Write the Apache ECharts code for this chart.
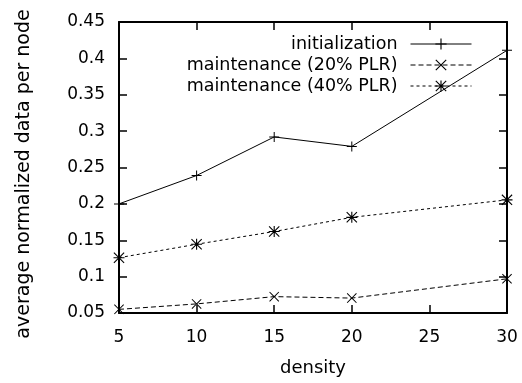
<!DOCTYPE html>
<html>
<head>
<meta charset="utf-8">
<script src="https://cdn.jsdelivr.net/npm/echarts@6/dist/echarts.min.js"></script>
<style>
  html, body { margin: 0; padding: 0; background: #fff; }
  #chart { width: 522px; height: 383px; }
</style>
</head>
<body>
<div id="chart"></div>
<script>
// data
const density = [5, 10, 15, 20, 30]
const initialization = [0.2, 0.239, 0.292, 0.279, 0.411]
const maint20 = [0.055, 0.0625, 0.0725, 0.0705, 0.097]
const maint40 = [0.126, 0.1445, 0.162, 0.1815, 0.2055]
const seriesNames = ['initialization', 'maintenance (20% PLR)', 'maintenance (40% PLR)']

// gnuplot-like point glyphs
const PLUS = 'path://M4.5,0H5.5V4.5H10V5.5H5.5V10H4.5V5.5H0V4.5H4.5Z'
const CROSS = 'path://M0,0.7L0.7,0L5,4.3L9.3,0L10,0.7L5.7,5L10,9.3L9.3,10L5,5.7L0.7,10L0,9.3L4.3,5Z'
const STAR = 'path://M4.5,0H5.5V4.5H10V5.5H5.5V10H4.5V5.5H0V4.5H4.5Z' +
  'M0,0.7L0.7,0L5,4.3L9.3,0L10,0.7L5.7,5L10,9.3L9.3,10L5,5.7L0.7,10L0,9.3L4.3,5Z'

const FONT = 'DejaVu Sans'

const pairs = (ys) => density.map((x, i) => [x, ys[i]])

const chart = echarts.init(document.getElementById('chart'), null, { renderer: 'canvas' })

const axisLine = { show: true, lineStyle: { color: '#000', width: 2 } }
const tick = { show: true, inside: true, length: 8, lineStyle: { color: '#000', width: 1.5 } }

const legendRow = (name, top) => ({
  data: [name],
  orient: 'vertical',
  right: 50,
  top: top,
  padding: 0,
  align: 'right',
  itemWidth: 61,
  itemHeight: 14,
  lineStyle: { width: 1 },
  textStyle: { fontFamily: FONT, fontSize: 17.5, color: '#000', padding: [0, 8, 0, 0] },
  selectedMode: false
})

chart.setOption({
  animation: false,
  backgroundColor: '#fff',
  textStyle: { fontFamily: FONT },
  grid: { left: 119, right: 15, top: 22, bottom: 70, show: false },
  legend: [
    legendRow(seriesNames[0], 35),
    legendRow(seriesNames[1], 56),
    legendRow(seriesNames[2], 77)
  ],
  xAxis: [
    {
      type: 'value', min: 5, max: 30, interval: 5,
      name: 'density', nameLocation: 'middle', nameGap: 46,
      nameTextStyle: { fontFamily: FONT, fontSize: 18, color: '#000' },
      axisLine, axisTick: tick,
      axisLabel: { fontFamily: FONT, fontSize: 17, color: '#000', margin: 16 },
      splitLine: { show: false }
    },
    {
      type: 'value', position: 'top', min: 5, max: 30, interval: 5,
      axisLine, axisTick: tick, axisLabel: { show: false }, splitLine: { show: false }
    }
  ],
  yAxis: [
    {
      type: 'value', min: 0.05, max: 0.45, interval: 0.05,
      name: 'average normalized data per node', nameLocation: 'middle', nameGap: 85,
      nameTextStyle: { fontFamily: FONT, fontSize: 19, color: '#000', padding: [0, 13, 0, 0] },
      axisLine, axisTick: tick,
      axisLabel: {
        fontFamily: FONT, fontSize: 17, color: '#000', margin: 14,
        formatter: (v) => String(Math.round(v * 100) / 100)
      },
      splitLine: { show: false }
    },
    {
      type: 'value', position: 'right', min: 0.05, max: 0.45, interval: 0.05,
      axisLine, axisTick: tick, axisLabel: { show: false }, splitLine: { show: false }
    }
  ],
  series: [
    {
      name: seriesNames[0], type: 'line', data: pairs(initialization),
      symbol: PLUS, symbolSize: 10,
      lineStyle: { color: '#000', width: 1, type: 'solid' },
      itemStyle: { color: '#000' }
    },
    {
      name: seriesNames[1], type: 'line', data: pairs(maint20),
      symbol: CROSS, symbolSize: 10,
      lineStyle: { color: '#000', width: 1, type: [5, 3] },
      itemStyle: { color: '#000' }
    },
    {
      name: seriesNames[2], type: 'line', data: pairs(maint40),
      symbol: STAR, symbolSize: 11,
      lineStyle: { color: '#000', width: 1, type: [3, 3] },
      itemStyle: { color: '#000' }
    }
  ]
})
</script>
</body>
</html>
